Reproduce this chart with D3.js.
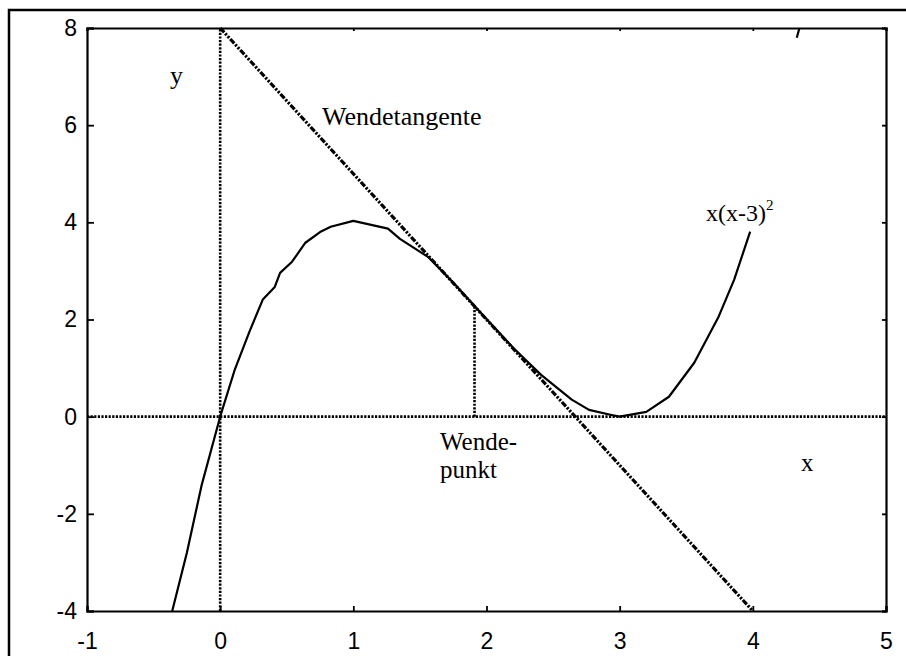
<!DOCTYPE html>
<html>
<head>
<meta charset="utf-8">
<script src="https://cdn.jsdelivr.net/npm/d3@7"></script>
<style>
  body { margin: 0; background: #fff; }
  svg { display: block; }
</style>
</head>
<body>
<div id="chart"></div>
<script>
// curve x(x-3)^2
const curveX = [-0.36, -0.25, -0.14, 0, 0.11, 0.22, 0.32, 0.41, 0.45, 0.54, 0.64, 0.75, 0.83, 1.0, 1.26, 1.35, 1.56, 1.75, 1.95, 2.2, 2.41, 2.64, 2.77, 2.93, 3.0, 3.2, 3.37, 3.56, 3.74, 3.86, 3.98];
const curveY = [-4, -2.8, -1.42, 0, 0.97, 1.75, 2.41, 2.67, 2.96, 3.19, 3.58, 3.8, 3.91, 4.03, 3.87, 3.66, 3.29, 2.76, 2.16, 1.42, 0.86, 0.35, 0.14, 0.04, 0, 0.1, 0.41, 1.11, 2.04, 2.82, 3.81];
// short piece of the curve that shows again just under the top edge
const curveTopX = [4.33, 4.35];
const curveTopY = [7.8, 8.0];

// inflection tangent
const tangentX = [0, 4];
const tangentY = [8, -4];

// Wendepunkt marker
const wpX = 1.91;
const wpY = [0, 2.25];

const xTicks = [-1, 0, 1, 2, 3, 4, 5];
const yTicks = [-4, -2, 0, 2, 4, 6, 8];

const width = 906;
const height = 656;
const margin = {top: 28, right: 20, bottom: 45, left: 87};

const svg = d3.select('#chart')
    .append('svg')
    .attr('width', width)
    .attr('height', height);

const x = d3.scaleLinear()
    .domain([-1, 5])
    .range([margin.left, 886]);

const y = d3.scaleLinear()
    .domain([-4, 8])
    .range([611, margin.top]);

// outer frame
svg.append('rect')
    .attr('x', 9).attr('y', 10)
    .attr('width', width + 20).attr('height', height + 20)
    .attr('fill', 'none')
    .attr('stroke', '#000')
    .attr('stroke-width', 2.5);

// axes with inward ticks
function yAxis(g) {
    g.attr('transform', `translate(${x(-1)},0)`)
        .call(d3.axisLeft(y).tickValues(yTicks).tickSize(-7).tickPadding(10).tickFormat(d => String(d)));
}
function xAxis(g) {
    g.attr('transform', `translate(0,${y(-4)})`)
        .call(d3.axisBottom(x).tickValues(xTicks).tickSize(-5).tickPadding(22).tickFormat(d => String(d)));
}
function rightAxis(g) {
    g.attr('transform', `translate(${x(5)},0)`)
        .call(d3.axisRight(y).tickValues(yTicks).tickSize(-4).tickFormat(''));
}
function topAxis(g) {
    g.attr('transform', `translate(0,${y(8)})`)
        .call(d3.axisTop(x).tickValues(xTicks).tickSize(-3).tickFormat(''));
}

svg.append('g').call(yAxis);
svg.append('g').call(xAxis);
svg.append('g').call(rightAxis);
svg.append('g').call(topAxis);

svg.selectAll('.domain').attr('stroke-width', 2.2);
svg.selectAll('.tick line').attr('stroke-width', 1.8);
svg.selectAll('.tick text')
    .attr('fill', '#000')
    .attr('font-family', 'Arial, "Liberation Sans", sans-serif')
    .attr('font-size', '23px');

const line = d3.line()
    .x(d => x(d[0]))
    .y(d => y(d[1]));

function dottedLine(pts) {
    svg.append('path')
        .attr('d', line(pts))
        .attr('fill', 'none').attr('stroke', '#000')
        .attr('stroke-width', 2.6)
        .attr('stroke-dasharray', '2.2,1.4');
}

// y = 0 and x = 0 guide lines
dottedLine([[-1, 0], [5, 0]]);
dottedLine([[0, -4], [0, 8]]);
// Wendepunkt drop line
dottedLine(wpY.map(v => [wpX, v]));

// tangent, dash-dot-dot
svg.append('path')
    .attr('d', line(tangentX.map((v, i) => [v, tangentY[i]])))
    .attr('fill', 'none').attr('stroke', '#000')
    .attr('stroke-width', 3.2)
    .attr('stroke-dasharray', '6,1.5,2.2,1.5,2.2,1.5');

// the function
svg.append('path')
    .attr('d', line(curveX.map((v, i) => [v, curveY[i]])))
    .attr('fill', 'none').attr('stroke', '#000')
    .attr('stroke-width', 2.2)
    .attr('stroke-linejoin', 'round');

svg.append('path')
    .attr('d', line(curveTopX.map((v, i) => [v, curveTopY[i]])))
    .attr('fill', 'none').attr('stroke', '#000')
    .attr('stroke-width', 2.2);

// text labels
const serif = '"Times New Roman", "Liberation Serif", serif';
function label(tx, ty, txt, size) {
    return svg.append('text')
        .attr('x', tx).attr('y', ty)
        .attr('font-family', serif)
        .attr('font-size', size + 'px')
        .attr('fill', '#000')
        .text(txt);
}

label(170, 84, 'y', 26);
label(322, 125, 'Wendetangente', 26);
label(440, 450, 'Wende-', 25);
label(440, 478, 'punkt', 25);
label(801, 471, 'x', 25);

const f = label(706, 221, 'x(x-3)', 24);
f.append('tspan')
    .attr('dy', -11)
    .attr('font-size', '15px')
    .text('2');
</script>
</body>
</html>
